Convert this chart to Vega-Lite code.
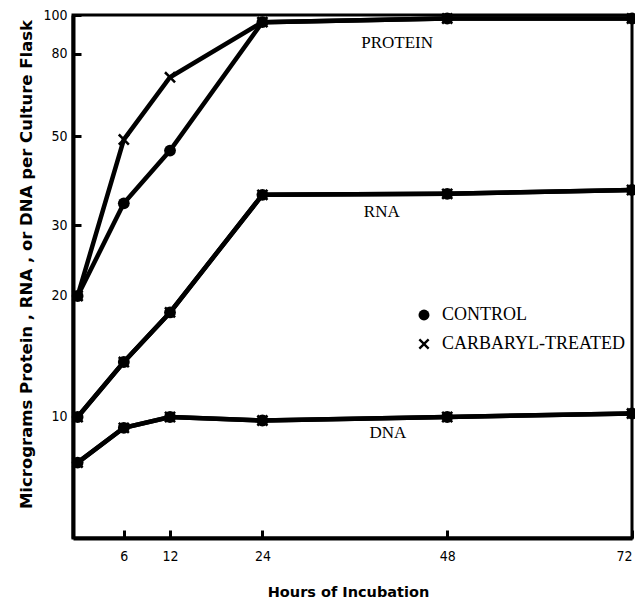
{
  "$schema": "https://vega.github.io/schema/vega-lite/v6.json",
  "autosize": {"type": "none"},
  "padding": {"left": 73, "top": 15, "right": 3, "bottom": 62},
  "width": 559,
  "height": 523,
  "background": "white",
  "config": {
    "view": {"stroke": "black", "strokeWidth": 3},
    "axis": {
      "domainColor": "black",
      "domainWidth": 4,
      "tickColor": "black",
      "tickWidth": 3,
      "tickSize": -8,
      "grid": false,
      "labelColor": "black",
      "titleColor": "black",
      "labelFont": "DejaVu Sans Condensed, Liberation Sans Narrow, Liberation Sans",
      "labelFontSize": 14,
      "titleFont": "DejaVu Sans",
      "titleFontWeight": "bold"
    },
    "legend": {
      "labelFont": "Liberation Serif",
      "labelFontSize": 18,
      "labelColor": "black",
      "labelLimit": 400
    }
  },
  "datasets": {
    "obs": [
      {"line": "Protein C", "series": "Protein", "group": "CONTROL", "t": 0, "v": 20},
      {"line": "Protein C", "series": "Protein", "group": "CONTROL", "t": 6, "v": 34},
      {"line": "Protein C", "series": "Protein", "group": "CONTROL", "t": 12, "v": 46},
      {"line": "Protein C", "series": "Protein", "group": "CONTROL", "t": 24, "v": 96},
      {"line": "Protein C", "series": "Protein", "group": "CONTROL", "t": 48, "v": 98},
      {"line": "Protein C", "series": "Protein", "group": "CONTROL", "t": 72, "v": 98},
      {"line": "Protein T", "series": "Protein", "group": "CARBARYL-TREATED", "t": 0, "v": 20},
      {"line": "Protein T", "series": "Protein", "group": "CARBARYL-TREATED", "t": 6, "v": 49},
      {"line": "Protein T", "series": "Protein", "group": "CARBARYL-TREATED", "t": 12, "v": 70},
      {"line": "Protein T", "series": "Protein", "group": "CARBARYL-TREATED", "t": 24, "v": 96},
      {"line": "Protein T", "series": "Protein", "group": "CARBARYL-TREATED", "t": 48, "v": 98},
      {"line": "Protein T", "series": "Protein", "group": "CARBARYL-TREATED", "t": 72, "v": 98},
      {"line": "RNA C", "series": "RNA", "group": "CONTROL", "t": 0, "v": 10},
      {"line": "RNA C", "series": "RNA", "group": "CONTROL", "t": 6, "v": 13.7},
      {"line": "RNA C", "series": "RNA", "group": "CONTROL", "t": 12, "v": 18.2},
      {"line": "RNA C", "series": "RNA", "group": "CONTROL", "t": 24, "v": 35.7},
      {"line": "RNA C", "series": "RNA", "group": "CONTROL", "t": 48, "v": 35.9},
      {"line": "RNA C", "series": "RNA", "group": "CONTROL", "t": 72, "v": 36.7},
      {"line": "RNA T", "series": "RNA", "group": "CARBARYL-TREATED", "t": 0, "v": 10},
      {"line": "RNA T", "series": "RNA", "group": "CARBARYL-TREATED", "t": 6, "v": 13.7},
      {"line": "RNA T", "series": "RNA", "group": "CARBARYL-TREATED", "t": 12, "v": 18.2},
      {"line": "RNA T", "series": "RNA", "group": "CARBARYL-TREATED", "t": 24, "v": 35.7},
      {"line": "RNA T", "series": "RNA", "group": "CARBARYL-TREATED", "t": 48, "v": 35.9},
      {"line": "RNA T", "series": "RNA", "group": "CARBARYL-TREATED", "t": 72, "v": 36.7},
      {"line": "DNA C", "series": "DNA", "group": "CONTROL", "t": 0, "v": 7.7},
      {"line": "DNA C", "series": "DNA", "group": "CONTROL", "t": 6, "v": 9.4},
      {"line": "DNA C", "series": "DNA", "group": "CONTROL", "t": 12, "v": 10.0},
      {"line": "DNA C", "series": "DNA", "group": "CONTROL", "t": 24, "v": 9.8},
      {"line": "DNA C", "series": "DNA", "group": "CONTROL", "t": 48, "v": 10.0},
      {"line": "DNA C", "series": "DNA", "group": "CONTROL", "t": 72, "v": 10.2},
      {"line": "DNA T", "series": "DNA", "group": "CARBARYL-TREATED", "t": 0, "v": 7.7},
      {"line": "DNA T", "series": "DNA", "group": "CARBARYL-TREATED", "t": 6, "v": 9.4},
      {"line": "DNA T", "series": "DNA", "group": "CARBARYL-TREATED", "t": 12, "v": 10.0},
      {"line": "DNA T", "series": "DNA", "group": "CARBARYL-TREATED", "t": 24, "v": 9.8},
      {"line": "DNA T", "series": "DNA", "group": "CARBARYL-TREATED", "t": 48, "v": 10.0},
      {"line": "DNA T", "series": "DNA", "group": "CARBARYL-TREATED", "t": 72, "v": 10.2}
    ],
    "labels": [
      {"label": "PROTEIN", "t": 41.5, "v": 85},
      {"label": "RNA", "t": 39.5, "v": 32.4},
      {"label": "DNA", "t": 40.3, "v": 9.1}
    ]
  },
  "layer": [
    {
      "data": {"name": "obs"},
      "mark": {"type": "line", "color": "black", "strokeWidth": 4.5, "clip": true},
      "encoding": {
        "x": {
          "field": "t", "type": "quantitative",
          "scale": {"domain": [-0.6, 72], "nice": false, "zero": false},
          "axis": {
            "values": [6, 12, 24, 48, 72],
            "title": "Hours of Incubation",
            "titleFontSize": 14.5,
            "labelPadding": 19,
            "titleX": 275,
            "titleY": 54,
            "titleBaseline": "middle"
          }
        },
        "y": {
          "field": "v", "type": "quantitative",
          "scale": {"type": "log", "domain": [5, 100], "nice": false},
          "axis": {
            "values": [10, 20, 30, 50, 80, 100],
            "title": "Micrograms Protein , RNA , or DNA   per  Culture Flask",
            "titleFontSize": 16.5,
            "labelPadding": 14,
            "titleX": -47,
            "titleY": 249,
            "titleBaseline": "middle",
            "titleAngle": -90,
            "titleAlign": "center"
          }
        },
        "detail": {"field": "line"}
      }
    },
    {
      "data": {"name": "obs"},
      "mark": {"type": "point", "filled": true, "color": "black", "opacity": 1},
      "encoding": {
        "x": {"field": "t", "type": "quantitative"},
        "y": {"field": "v", "type": "quantitative"},
        "shape": {
          "field": "group", "type": "nominal",
          "scale": {"domain": ["CONTROL", "CARBARYL-TREATED"], "range": ["circle", "M-1,-0.7L-0.7,-1L0,-0.3L0.7,-1L1,-0.7L0.3,0L1,0.7L0.7,1L0,0.3L-0.7,1L-1,0.7L-0.3,0Z"]},
          "legend": {
            "title": null,
            "orient": "none",
            "legendX": 342,
            "legendY": 291,
            "padding": 0,
            "rowPadding": 11,
            "labelOffset": 9,
            "symbolSize": 120,
            "symbolFillColor": "black",
            "labelLimit": 400
          }
        },
        "size": {"value": 140}
      }
    },
    {
      "data": {"name": "labels"},
      "mark": {"type": "text", "font": "Liberation Serif", "fontSize": 17, "color": "black", "align": "center", "baseline": "middle"},
      "encoding": {
        "x": {"field": "t", "type": "quantitative"},
        "y": {"field": "v", "type": "quantitative"},
        "text": {"field": "label"}
      }
    }
  ]
}
